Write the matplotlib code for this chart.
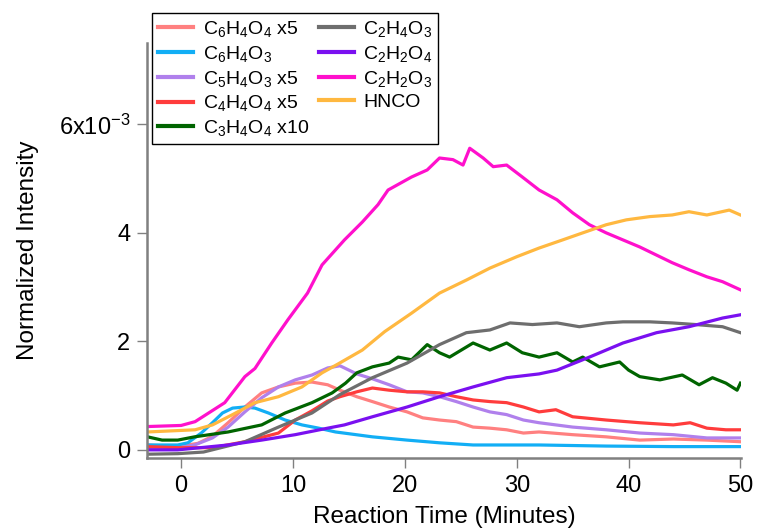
import matplotlib
matplotlib.use("Agg")
import numpy as np
import matplotlib.pyplot as plt

plt.rcParams['font.family'] = ['Liberation Sans', 'DejaVu Sans']
plt.rcParams['mathtext.default'] = 'regular'

# values, y in units of 1e-3
t_c6h4o4 = [-3, -0.3, 1.5, 2.8, 4.2, 5.7, 7.2, 8.7, 10.2, 11.7, 13.1, 14.2, 15.7, 17.1, 18.6, 20.2, 21.6,
            23.1, 24.6, 26.1, 27.6, 29.1, 30.6, 32, 35, 38, 41, 44, 47, 50]
y_c6h4o4 = [0.09, 0.06, 0.12, 0.25, 0.5, 0.79, 1.05, 1.16, 1.23, 1.25, 1.2, 1.1, 0.98, 0.89, 0.79, 0.7, 0.59,
            0.55, 0.52, 0.42, 0.4, 0.37, 0.31, 0.33, 0.28, 0.24, 0.18, 0.2, 0.18, 0.15]

t_c6h4o3 = [-3, -0.3, 0.6, 1.8, 2.8, 3.7, 4.6, 5.7, 6.6, 7.8, 9.3, 10.8, 12.3, 13.8, 17.1, 20.2, 23.1, 26.1,
            29.1, 32, 38, 44, 50]
y_c6h4o3 = [0.09, 0.09, 0.13, 0.31, 0.5, 0.68, 0.77, 0.79, 0.77, 0.68, 0.55, 0.46, 0.4, 0.33, 0.24, 0.18, 0.13,
            0.09, 0.09, 0.09, 0.07, 0.06, 0.06]

t_c5h4o3 = [-3, -0.3, 1.2, 2.8, 4.2, 5.7, 7.2, 8.7, 10.2, 11.7, 13.1, 14.2, 15.7, 17.1, 18.6, 20.2, 21.6, 23.1,
            24.6, 26.1, 27.6, 29.1, 30.6, 32, 35, 38, 41, 44, 47, 50]
y_c5h4o3 = [0.02, 0.03, 0.09, 0.22, 0.42, 0.7, 0.96, 1.16, 1.29, 1.38, 1.51, 1.55, 1.4, 1.31, 1.2, 1.07, 1.05,
            0.98, 0.89, 0.79, 0.7, 0.65, 0.55, 0.5, 0.42, 0.37, 0.31, 0.28, 0.22, 0.22]

t_c4h4o4 = [-3, -0.3, 2.8, 5.7, 8.7, 10.2, 11.7, 13.1, 14.2, 15.7, 17.1, 18.6, 20.2, 21.6, 23.1, 24.6, 26.1,
            27.6, 29.1, 30.6, 32, 33.5, 35, 38, 41, 44, 45.5, 47, 48.7, 50]
y_c4h4o4 = [0.06, 0.04, 0.04, 0.15, 0.31, 0.55, 0.72, 0.9, 0.98, 1.07, 1.14, 1.1, 1.07, 1.07, 1.05, 0.98, 0.92,
            0.89, 0.87, 0.79, 0.7, 0.74, 0.61, 0.55, 0.5, 0.46, 0.5, 0.4, 0.37, 0.37]

t_c3h4o4 = [-3, -1.7, -0.3, 1.2, 4.2, 7.2, 9.3, 11.7, 13.5, 14.7, 15.7, 17.1, 18.6, 19.4, 20.6, 22, 23.1, 24,
            26.1, 27.6, 29.1, 30.5, 32, 33.6, 35, 35.9, 37.4, 39.2, 40, 41, 42.8, 44.8, 46.3, 47.5, 48.7, 49.7, 50]
y_c3h4o4 = [0.24, 0.18, 0.18, 0.24, 0.33, 0.46, 0.68, 0.87, 1.05, 1.23, 1.42, 1.53, 1.6, 1.71, 1.66, 1.94, 1.79,
            1.71, 1.97, 1.84, 1.97, 1.79, 1.71, 1.79, 1.62, 1.71, 1.53, 1.62, 1.47, 1.35, 1.29, 1.38, 1.2, 1.33,
            1.23, 1.1, 1.23]

t_c2h4o3 = [-3, -0.3, 2, 5.7, 8.7, 11.7, 14.2, 17.1, 20.2, 23.1, 25.5, 27.6, 29.4, 31.4, 33.6, 35.6, 38, 39.5,
            41.9, 43.9, 46, 48.4, 50]
y_c2h4o3 = [-0.08, -0.07, -0.04, 0.15, 0.42, 0.68, 1.02, 1.33, 1.6, 1.94, 2.16, 2.21, 2.34, 2.31, 2.34, 2.27,
            2.34, 2.36, 2.36, 2.34, 2.31, 2.27, 2.16]

t_c2h2o4 = [-3, -0.3, 4.2, 7.2, 10.2, 13.1, 14.6, 17.1, 20.2, 23.1, 26.1, 29.1, 32, 33.6, 36.5, 39.5, 42.5,
            45.4, 48.4, 50]
y_c2h2o4 = [0.0, 0.0, 0.09, 0.18, 0.28, 0.4, 0.46, 0.61, 0.79, 0.98, 1.16, 1.33, 1.4, 1.47, 1.71, 1.97, 2.16,
            2.27, 2.43, 2.49]

t_c2h2o3 = [-3, 0, 1.25, 3.9, 5.7, 6.6, 8.1, 9.55, 11.3, 12.6, 14.6, 16.2, 17.6, 18.5, 20.6, 22, 23.1, 24.3,
            25.2, 25.8, 27, 27.9, 29.1, 30.5, 32, 33.6, 35, 36.5, 38, 39.5, 41, 42.5, 43.9, 45.4, 47, 48.4, 50]
y_c2h2o3 = [0.43, 0.45, 0.52, 0.87, 1.35, 1.5, 1.97, 2.4, 2.89, 3.41, 3.87, 4.2, 4.52, 4.79, 5.03, 5.16, 5.38,
            5.35, 5.25, 5.56, 5.38, 5.22, 5.25, 5.03, 4.79, 4.61, 4.37, 4.15, 4.0, 3.87, 3.74, 3.59, 3.45, 3.32,
            3.19, 3.1, 2.95]

t_hnco = [-3, 1.25, 2.8, 4.6, 6.6, 8.7, 10.8, 12.6, 14, 16.2, 18.2, 20.6, 23.1, 25.5, 27.6, 30, 32, 34.1, 35.9,
          38, 39.8, 41.9, 43.9, 45.4, 47, 49, 50]
y_hnco = [0.33, 0.37, 0.46, 0.65, 0.87, 0.98, 1.16, 1.42, 1.58, 1.84, 2.18, 2.52, 2.89, 3.13, 3.35, 3.56, 3.72,
          3.87, 4.0, 4.15, 4.24, 4.3, 4.33, 4.39, 4.33, 4.42, 4.33]

labels = ['C$_6$H$_4$O$_4$ x5', 'C$_6$H$_4$O$_3$', 'C$_5$H$_4$O$_3$ x5', 'C$_4$H$_4$O$_4$ x5',
          'C$_3$H$_4$O$_4$ x10', 'C$_2$H$_4$O$_3$', 'C$_2$H$_2$O$_4$', 'C$_2$H$_2$O$_3$', 'HNCO']
series = [(t_c6h4o4, y_c6h4o4), (t_c6h4o3, y_c6h4o3), (t_c5h4o3, y_c5h4o3), (t_c4h4o4, y_c4h4o4),
          (t_c3h4o4, y_c3h4o4), (t_c2h4o3, y_c2h4o3), (t_c2h2o4, y_c2h2o4), (t_c2h2o3, y_c2h2o3),
          (t_hnco, y_hnco)]
colors = ['#ff8080', '#12aef5', '#b080ec', '#ff3c3c', '#006400', '#6e6e6e', '#7a10f0', '#ff10cc', '#ffb840']

fig = plt.figure(figsize=(7.57, 5.31), dpi=100)
ax = fig.add_axes([147/757, 1 - 458/531, (741 - 147)/757, (458 - 43)/531])

for (t, y), lab, c in zip(series, labels, colors):
    ax.plot(t, np.array(y) * 1e-3, color=c, lw=2.3, label=lab)

ax.set_xlim(-3.05, 50.05)
ax.set_ylim(-0.15e-3, 7.5e-3)
ax.set_xticks([0, 10, 20, 30, 40, 50])
ax.set_yticks([0, 2e-3, 4e-3, 6e-3])
ax.set_yticklabels(['0', '2', '4', '6x10$^{-3}$'])

for s in ['top', 'right']:
    ax.spines[s].set_visible(False)
for s in ['left', 'bottom']:
    ax.spines[s].set_color('#808080')
    ax.spines[s].set_linewidth(1.8)
ax.tick_params(direction='out', length=7, width=1, color='#808080', labelsize=17, pad=5)

ax.set_xlabel('Reaction Time (Minutes)', fontsize=17.5, labelpad=7)
ax.set_ylabel('Normalized Intensity', fontsize=17.5, labelpad=14)

leg = ax.legend(ncol=2, loc='upper left', bbox_to_anchor=(152/757, 1 - 13/531),
                bbox_transform=fig.transFigure, borderaxespad=0, fontsize=14, frameon=True,
                fancybox=False, framealpha=1, edgecolor='black', handlelength=1.8,
                handletextpad=0.5, columnspacing=0.5, labelspacing=0.25, borderpad=0.3)
leg.get_frame().set_linewidth(1)
for h in leg.get_lines():
    h.set_linewidth(3)

fig.savefig('out.png', dpi=100)
